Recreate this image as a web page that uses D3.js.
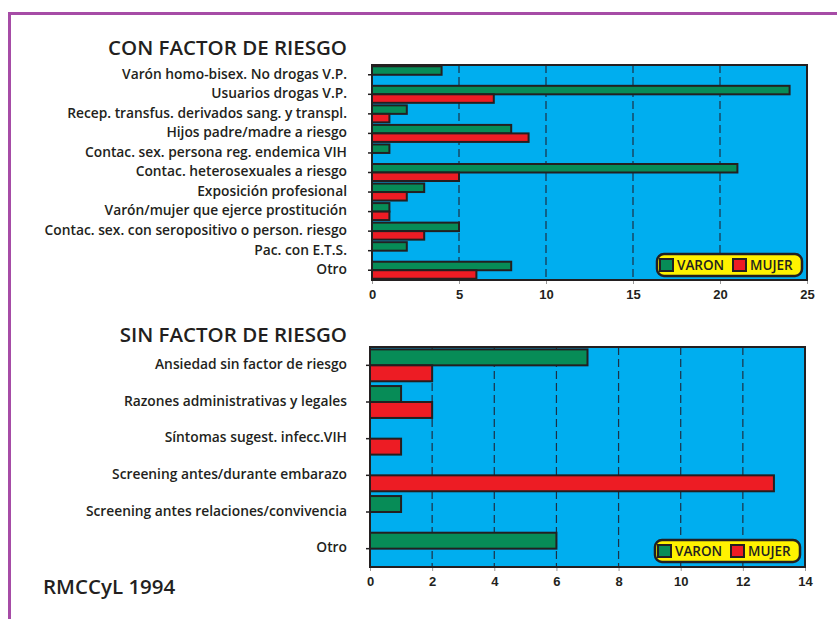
<!DOCTYPE html>
<html>
<head>
<meta charset="utf-8">
<script src="https://cdn.jsdelivr.net/npm/d3@7"></script>
<style>
body { margin: 0; background: #fff; }
svg { display: block; font-family: "Open Sans", sans-serif; }
.lab { font-size: 13.8px; font-weight: 600; fill: #231f20; }
.leg { font-size: 13.5px; font-weight: 600; fill: #231f20; }
.tit { font-size: 20.5px; font-weight: 600; fill: #231f20; }
.tick text { font-size: 13px; font-weight: 600; fill: #231f20; }
</style>
</head>
<body>
<svg id="chart" width="837" height="619"></svg>
<script>

// datos
var series = ["VARON", "MUJER"];
var colors = ["#078c57", "#ed1c24"];

var conCats = ["Varón homo-bisex. No drogas V.P.", "Usuarios drogas V.P.",
  "Recep. transfus. derivados sang. y transpl.", "Hijos padre/madre a riesgo",
  "Contac. sex. persona reg. endemica VIH", "Contac. heterosexuales a riesgo",
  "Exposición profesional", "Varón/mujer que ejerce prostitución",
  "Contac. sex. con seropositivo o person. riesgo", "Pac. con E.T.S.", "Otro"];
var conVaron = [4, 24, 2, 8, 1, 21, 3, 1, 5, 2, 8];
var conMujer = [0, 7, 1, 9, 0, 5, 2, 1, 3, 0, 6];
var conTicks = [0, 5, 10, 15, 20, 25];

var sinCats = ["Ansiedad sin factor de riesgo", "Razones administrativas y legales",
  "Síntomas sugest. infecc.VIH", "Screening antes/durante embarazo",
  "Screening antes relaciones/convivencia", "Otro"];
var sinVaron = [7, 1, 0, 0, 1, 6];
var sinMujer = [2, 2, 1, 13, 0, 0];
var sinTicks = [0, 2, 4, 6, 8, 10, 12, 14];

var svg = d3.select("#chart");

// marco morado
svg.append("line").attr("x1", 8).attr("x2", 837).attr("y1", 13.5).attr("y2", 13.5)
  .attr("stroke", "#a64ca6").attr("stroke-width", 3);
svg.append("line").attr("x1", 9.5).attr("x2", 9.5).attr("y1", 12).attr("y2", 619)
  .attr("stroke", "#a64ca6").attr("stroke-width", 3);

function drawChart(o) {
  var x = d3.scaleLinear().domain([0, o.ticks[o.ticks.length - 1]]).range([o.x0, o.x1]);
  var y = d3.scaleBand().domain(o.cats).range([o.y0, o.y1]).paddingInner(0.13).paddingOuter(0.065);
  var ys = d3.scaleBand().domain(series).range([0, y.bandwidth()]);

  var g = svg.append("g");

  g.append("rect")
    .attr("x", o.x0).attr("y", o.y0)
    .attr("width", o.x1 - o.x0).attr("height", o.y1 - o.y0)
    .attr("fill", "#00aeef");

  // rejilla discontinua
  g.selectAll(".grid")
    .data(o.ticks.slice(1, -1))
    .enter().append("line")
      .attr("x1", function(d) { return x(d); })
      .attr("x2", function(d) { return x(d); })
      .attr("y1", o.y0).attr("y2", o.y1)
      .attr("stroke", "#1b3045").attr("stroke-width", 1.2)
      .attr("stroke-dasharray", "8,4");

  var rows = [];
  o.cats.forEach(function(c, i) {
    rows.push({cat: c, s: "VARON", v: o.varon[i]});
    rows.push({cat: c, s: "MUJER", v: o.mujer[i]});
  });

  g.selectAll(".bar")
    .data(rows.filter(function(d) { return d.v > 0; }))
    .enter().append("rect")
      .attr("x", x(0))
      .attr("y", function(d) { return y(d.cat) + ys(d.s); })
      .attr("width", function(d) { return x(d.v) - x(0); })
      .attr("height", ys.bandwidth())
      .attr("fill", function(d) { return colors[series.indexOf(d.s)]; })
      .attr("stroke", "#231f20").attr("stroke-width", 2);

  g.append("rect")
    .attr("x", o.x0).attr("y", o.y0)
    .attr("width", o.x1 - o.x0).attr("height", o.y1 - o.y0)
    .attr("fill", "none").attr("stroke", "#231f20").attr("stroke-width", 2);

  var xa = g.append("g")
    .attr("transform", "translate(0," + (o.y1 + 1) + ")")
    .call(d3.axisBottom(x).tickValues(o.ticks).tickSize(3).tickPadding(6));
  xa.select(".domain").remove();
  xa.selectAll(".tick line").attr("stroke", "#999");

  var ya = g.append("g")
    .attr("transform", "translate(" + (o.x0 - 1) + ",0)")
    .call(d3.axisLeft(y).tickSize(3).tickFormat(""));
  ya.select(".domain").remove();
  ya.selectAll(".tick line").attr("stroke", "#231f20").attr("stroke-width", 1.5);

  g.selectAll(".lab")
    .data(o.cats)
    .enter().append("text")
      .attr("class", "lab")
      .attr("x", 347)
      .attr("y", function(d) { return y(d) + y.bandwidth() / 2 - 1; })
      .attr("dy", "0.35em")
      .attr("text-anchor", "end")
      .text(function(d) { return d; });

  g.append("text").attr("class", "tit")
    .attr("x", 347).attr("y", o.titleY)
    .attr("text-anchor", "end")
    .text(o.title);

  // leyenda
  var lg = g.append("g").attr("transform", "translate(" + o.legX + "," + o.legY + ")");
  lg.append("rect").attr("width", 145).attr("height", 22).attr("rx", 7)
    .attr("fill", "#fff200").attr("stroke", "#231f20").attr("stroke-width", 2.5);
  var items = lg.selectAll(".it").data(series).enter().append("g")
    .attr("transform", function(d, i) { return "translate(" + (3 + i * 73) + ",5)"; });
  items.append("rect").attr("width", 13).attr("height", 12)
    .attr("fill", function(d, i) { return colors[i]; })
    .attr("stroke", "#231f20").attr("stroke-width", 2);
  items.append("text").attr("class", "leg")
    .attr("x", 17).attr("y", 6).attr("dy", "0.36em")
    .text(function(d) { return d; });
}

drawChart({
  cats: conCats, varon: conVaron, mujer: conMujer, ticks: conTicks,
  x0: 372, x1: 807, y0: 65, y1: 280,
  title: "CON FACTOR DE RIESGO", titleY: 55, legX: 657, legY: 254
});

drawChart({
  cats: sinCats, varon: sinVaron, mujer: sinMujer, ticks: sinTicks,
  x0: 370, x1: 805, y0: 347, y1: 567,
  title: "SIN FACTOR DE RIESGO", titleY: 342, legX: 655, legY: 540
});

svg.append("text").attr("class", "tit")
  .attr("x", 43).attr("y", 594)
  .text("RMCCyL 1994");

</script>
</body>
</html>
